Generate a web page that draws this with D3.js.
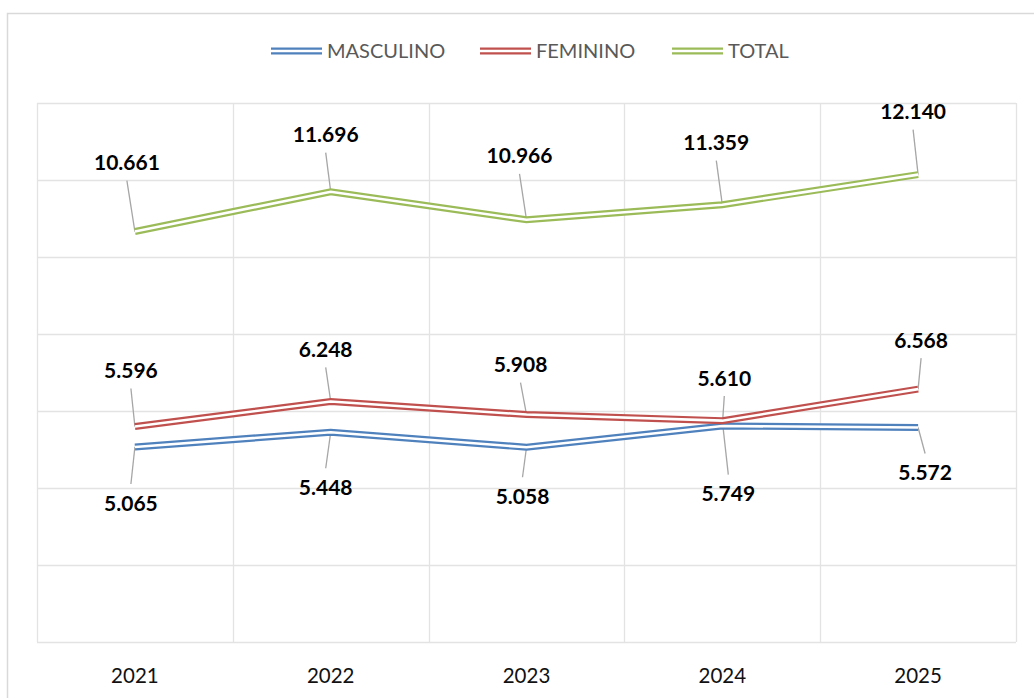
<!DOCTYPE html>
<html>
<head>
<meta charset="utf-8">
<script src="https://cdn.jsdelivr.net/npm/d3@7"></script>
<style>
  html, body { margin: 0; padding: 0; background: #ffffff; }
  svg { display: block; }
</style>
</head>
<body>
<script>
// ---- data ----
const categories = ["2021", "2022", "2023", "2024", "2025"];
const masculino = [5065, 5448, 5058, 5610, 5572];
const feminino  = [5596, 6248, 5908, 5749, 6568];
const total     = [10661, 11696, 10966, 11359, 12140];
const seriesNames = ["MASCULINO", "FEMININO", "TOTAL"];
const yTicks = [0, 2000, 4000, 6000, 8000, 10000, 12000, 14000];

// ---- layout / style (not data) ----
const W = 1034, H = 698;
const plot = { left: 37, right: 1016, top: 103, bottom: 642 };
const colors = { MASCULINO: "#4F81BD", FEMININO: "#C0504D", TOTAL: "#9BBB59" };
// label offsets from point (dx, dy) per series
const labelOffsets = {
  TOTAL:     [[-8, -69], [-5, -57], [-7, -64], [-6, -62], [-5, -63]],
  FEMININO:  [[-4, -56], [-5, -52], [-6, -50], [6, 73], [3, -49]],
  MASCULINO: [[-4, 56], [-5, 55], [-4, 49], [2, -48], [7, 45]]
};

const svg = d3.select("body").append("svg").attr("width", W).attr("height", H);

// outer chart border
svg.append("rect").attr("x", 7.5).attr("y", 13.5).attr("width", W + 20).attr("height", H + 20)
  .attr("fill", "#fff").attr("stroke", "#d9d9d9").attr("stroke-width", 1.5);

const x = d3.scaleBand().domain(categories).range([plot.left, plot.right]).padding(0);
const y = d3.scaleLinear().domain([0, 14000]).range([plot.bottom, plot.top]);
const cx = c => x(c) + x.bandwidth() / 2;

// gridlines
const grid = svg.append("g");
grid.selectAll("line.h").data(yTicks).enter().append("line")
  .attr("x1", plot.left).attr("x2", plot.right)
  .attr("y1", d => Math.round(y(d)) + 0.5).attr("y2", d => Math.round(y(d)) + 0.5)
  .attr("stroke", "#e3e3e3").attr("stroke-width", 1.3);
const vx = categories.map(c => x(c)).concat([plot.right]);
grid.selectAll("line.v").data(vx).enter().append("line")
  .attr("y1", plot.top).attr("y2", plot.bottom)
  .attr("x1", d => Math.round(d) + 0.5).attr("x2", d => Math.round(d) + 0.5)
  .attr("stroke", "#e3e3e3").attr("stroke-width", 1.3);

// x axis labels
const xAxis = d3.axisBottom(x).tickSize(0).tickPadding(0);
const xg = svg.append("g").attr("transform", `translate(0, ${plot.bottom})`).call(xAxis);
xg.select(".domain").remove();
xg.selectAll("text").attr("y", 34).attr("dy", "0.35em")
  .style("font-family", "Lato, 'Open Sans', sans-serif").style("font-size", "20.5px").attr("fill", "#111");

const series = [
  { name: "MASCULINO", values: masculino },
  { name: "FEMININO", values: feminino },
  { name: "TOTAL", values: total }
];

const line = d3.line().x((d, i) => cx(categories[i])).y(d => y(d));

// leader lines and labels
const fmt = v => d3.format(",")(v).replace(",", ".");
series.forEach(s => {
  const g = svg.append("g");
  s.values.forEach((v, i) => {
    const px = cx(categories[i]), py = y(v);
    const [dx, dy] = labelOffsets[s.name][i];
    const lx = px + dx, ly = py + dy;
    const ey = dy < 0 ? ly + 18 : ly - 19;
    g.append("line").attr("x1", px).attr("y1", py).attr("x2", lx).attr("y2", ey)
      .attr("stroke", "#a6a6a6").attr("stroke-width", 1.3);
    g.append("text").attr("x", lx).attr("y", ly).attr("dy", "0.36em")
      .attr("text-anchor", "middle")
      .style("font-family", "Lato, 'Open Sans', sans-serif").style("font-weight", "bold")
      .style("font-size", "21px").attr("fill", "#000").text(fmt(v));
  });
});

// double lines
series.forEach(s => {
  svg.append("path").datum(s.values).attr("d", line)
    .attr("fill", "none").attr("stroke", colors[s.name]).attr("stroke-width", 7)
    .attr("stroke-linejoin", "miter");
  svg.append("path").datum(s.values).attr("d", line)
    .attr("fill", "none").attr("stroke", "#fff").attr("stroke-width", 2.6)
    .attr("stroke-linejoin", "miter");
});

// legend
const legendItems = [
  { name: "MASCULINO", x: 271 },
  { name: "FEMININO", x: 480 },
  { name: "TOTAL", x: 672 }
];
const lg = svg.append("g");
legendItems.forEach(it => {
  lg.append("line").attr("x1", it.x).attr("x2", it.x + 51).attr("y1", 51).attr("y2", 51)
    .attr("stroke", colors[it.name]).attr("stroke-width", 7);
  lg.append("line").attr("x1", it.x).attr("x2", it.x + 51).attr("y1", 51).attr("y2", 51)
    .attr("stroke", "#fff").attr("stroke-width", 2.6);
  lg.append("text").attr("x", it.x + 56).attr("y", 51).attr("dy", "0.36em")
    .style("font-family", "Lato, 'Open Sans', sans-serif").style("font-size", "20px")
    .attr("fill", "#595959").text(it.name);
});
</script>
</body>
</html>
